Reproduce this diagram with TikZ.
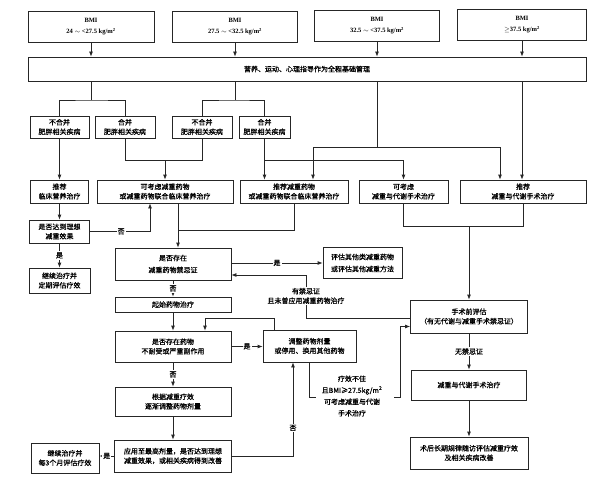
\documentclass[tikz,border=0pt]{standalone}
\usepackage{fontspec}
\setmainfont{Liberation Serif}
\newfontfamily\cjk[FakeBold=0.8]{Noto Sans CJK SC}
\usepackage{tikz}
\usetikzlibrary{arrows.meta, positioning, calc}

\begin{document}
\begin{tikzpicture}[x=1pt, y=-1pt,
  box/.style={draw=black!85, line width=0.8pt, align=center, inner sep=1pt,
    font=\cjk\fontsize{7}{9.5}\selectfont},
  loose/.style={font=\cjk\fontsize{7}{12}\selectfont},
  bmibox/.style={draw=black!85, line width=0.8pt, align=center, inner sep=1pt,
    font=\bfseries\fontsize{6.5}{11}\selectfont, minimum height=31},
  line/.style={draw=black!85, line width=0.8pt},
  arr/.style={line, -{Latex[length=5pt, width=4pt]}},
  lbl/.style={fill=white, inner sep=1pt, align=center,
    font=\cjk\fontsize{7}{9.5}\selectfont}]

\useasboundingbox (0,0) rectangle (600,495);

% BMI groups
\node[bmibox, minimum width=126] (b1) at (91,27) {BMI\\24 $\sim$ <27.5 kg/m\textsuperscript{2}};
\node[bmibox, minimum width=125] (b2) at (235,27) {BMI\\27.5 $\sim$ <32.5 kg/m\textsuperscript{2}};
\node[bmibox, minimum width=125] (b3) at (377,26) {BMI\\32.5 $\sim$ <37.5 kg/m\textsuperscript{2}};
\node[bmibox, minimum width=129] (b4) at (522,25) {BMI\\$\geq$37.5 kg/m\textsuperscript{2}};

% basic management
\node[box, minimum width=558, minimum height=24] (bar) at (307,69) {营养、运动、心理指导作为全程基础管理};
\draw[arr] (b1) -- (b1 |- bar.north);
\draw[arr] (b2) -- (b2 |- bar.north);
\draw[arr] (b3) -- (b3 |- bar.north);
\draw[arr] (b4) -- (b4 |- bar.north);

% comorbidity split
\node[box, minimum width=59, minimum height=22] (c1) at (59.5,127) {不合并\\肥胖相关疾病};
\node[box, minimum width=60, minimum height=22] (c2) at (125,127) {合并\\肥胖相关疾病};
\node[box, minimum width=60, minimum height=22] (c3) at (202,127) {不合并\\肥胖相关疾病};
\node[box, minimum width=51, minimum height=22] (c4) at (264.5,127) {合并\\肥胖相关疾病};

\coordinate (s1) at (91,100);
\draw[line] (bar.south -| s1) -- (s1);
\draw[line] (c1.north) |- (s1) -| (c2.north);
\coordinate (s2) at (235,100);
\draw[line] (bar.south -| s2) -- (s2);
\draw[line] (c3.north) |- (s2) -| (c4.north);

% treatment options
\node[box, minimum width=58, minimum height=23] (d1) at (59.5,191.5) {推荐\\临床营养治疗};
\node[box, minimum width=136, minimum height=23] (d2) at (165,191.5) {可考虑减重药物\\或减重药物联合临床营养治疗};
\node[box, minimum width=108, minimum height=23] (d3) at (294,191.5) {推荐减重药物\\或减重药物联合临床营养治疗};
\node[box, minimum width=89, minimum height=23] (d4) at (403.5,191.5) {可考虑\\减重与代谢手术治疗};
\node[box, minimum width=126, minimum height=23] (d5) at (523,191.5) {推荐\\减重与代谢手术治疗};

\draw[arr] (c1) -- (d1);
\coordinate (s4) at (165,160);
\draw[line] (c2.south) |- (s4);
\draw[line] (c3.south) |- (s4);
\draw[arr] (s4) -- (d2.north);
\coordinate (s5) at (c4.south |- 0,160);
\draw[arr] (c4.south) -- (c4.south |- d3.north);
\draw[arr] (s5) -| (d4.north);
\coordinate (s3) at (377,147);
\draw[line] (bar.south -| s3) -- (s3);
\draw[arr] (s3) -| ([xshift=19pt]d3.north);
\draw[arr] (s3) -| ([xshift=-23pt]d5.north);
\draw[arr] (bar.south -| b4) -- (b4 |- d5.north);

% nutrition branch
\node[box, minimum width=60, minimum height=23] (e1) at (59.5,231.5) {是否达到理想\\减重效果};
\node[box, minimum width=61, minimum height=25] (f1) at (59.5,280.5) {继续治疗并\\定期评估疗效};
\draw[arr] (d1) -- (e1);
\draw[arr] (e1) -- (f1) node[lbl, midway] {是};
\draw[arr] (e1.east) -| ([xshift=-15pt]d2.south) node[lbl, pos=0.26] {否};

% drug branch
\node[box, loose, minimum width=116, minimum height=32] (g1) at (173,264) {是否存在\\减重药物禁忌证};
\node[box, loose, minimum width=79, minimum height=31] (g2) at (362.5,263) {评估其他类减重药物\\或评估其他减重方法};
\node[box, minimum width=116, minimum height=15] (g3) at (173,304.5) {起始药物治疗};
\node[box, minimum width=116, minimum height=31] (g4) at (173,346.5) {是否存在药物\\不耐受或严重副作用};
\node[box, minimum width=93, minimum height=32] (g5) at (309.5,346) {调整药物剂量\\或停用、换用其他药物};
\node[box, minimum width=116, minimum height=29] (g6) at (173,401.5) {根据减重疗效\\逐渐调整药物剂量};
\node[box, minimum width=117, minimum height=32] (g7) at (173,456) {应用至最高剂量，是否达到理想\\减重效果，或相关疾病得到改善};
\node[box, minimum width=68, minimum height=30] (g8) at (65,458) {继续治疗并\\每3个月评估疗效};

\coordinate (s6) at (178,230);
\draw[line] (d3.south) |- (s6);
\draw[arr] (s6 |- d2.south) -- (s6 |- g1.north);
\draw[arr] (g1.east |- g2.west) -- (g2.west) node[lbl, midway] {是};
\draw[arr] (g1) -- (g3) node[lbl, midway] {否};
\draw[arr] (g3) -- (g4);
\draw[arr] (g4.east) -- (g4.east -| g5.west) node[lbl, midway] {是};
\coordinate (s9) at (205,318);
\draw[arr] ([xshift=-35pt]g5.north) |- (s9) -- (s9 |- g4.north);
\draw[arr] (g4) -- (g6) node[lbl, midway] {否};
\draw[arr] (g6) -- (g7);
\draw[arr] (g7.west) -- (g7.west -| g8.east) node[lbl, midway] {是};
\draw[arr] (g7.east) -| ([xshift=-16.5pt]g5.south) node[lbl, pos=0.65] {否};

% surgery branch
\node[box, minimum width=117, minimum height=33] (h1) at (469,316.5) {手术前评估\\（有无代谢与减重手术禁忌证）};
\node[box, minimum width=115, minimum height=30] (h2) at (469,385) {减重与代谢手术治疗};
\node[box, minimum width=118, minimum height=32] (h3) at (469,453) {术后长期规律随访评估减重疗效\\及相关疾病改善};

\coordinate (s7) at (469,226);
\draw[line] (d4.south) |- (s7);
\draw[line] (d5.south) |- (s7);
\draw[arr] (s7) -- (h1.north);
\draw[arr] (h1) -- (h2) node[lbl, midway] {无禁忌证};
\draw[arr] (h2) -- (h3);

% contraindication back to drugs
\coordinate (s8) at (306,275);
\draw[arr] ([yshift=-1.5pt]h1.west) -| (s8) -- (s8 -| g1.east);
\node[lbl] (ci) at (306,296) {有禁忌证\\且未曾应用减重药物治疗};

% poor effect -> surgery
\node[lbl, font=\cjk\fontsize{7}{11.5}\selectfont] (fx) at (352,396) {疗效不佳\\且BMI≥27.5kg/m\textsuperscript{2}\\可考虑减重与代谢\\手术治疗};
\coordinate (k1) at (316,397);
\coordinate (k2) at (394,397);
\draw[line] (g5.south) |- (k1);
\draw[arr] (k2) -- ++(6,0) |- ([yshift=-10pt]h1.west);
\end{tikzpicture}
\end{document}
